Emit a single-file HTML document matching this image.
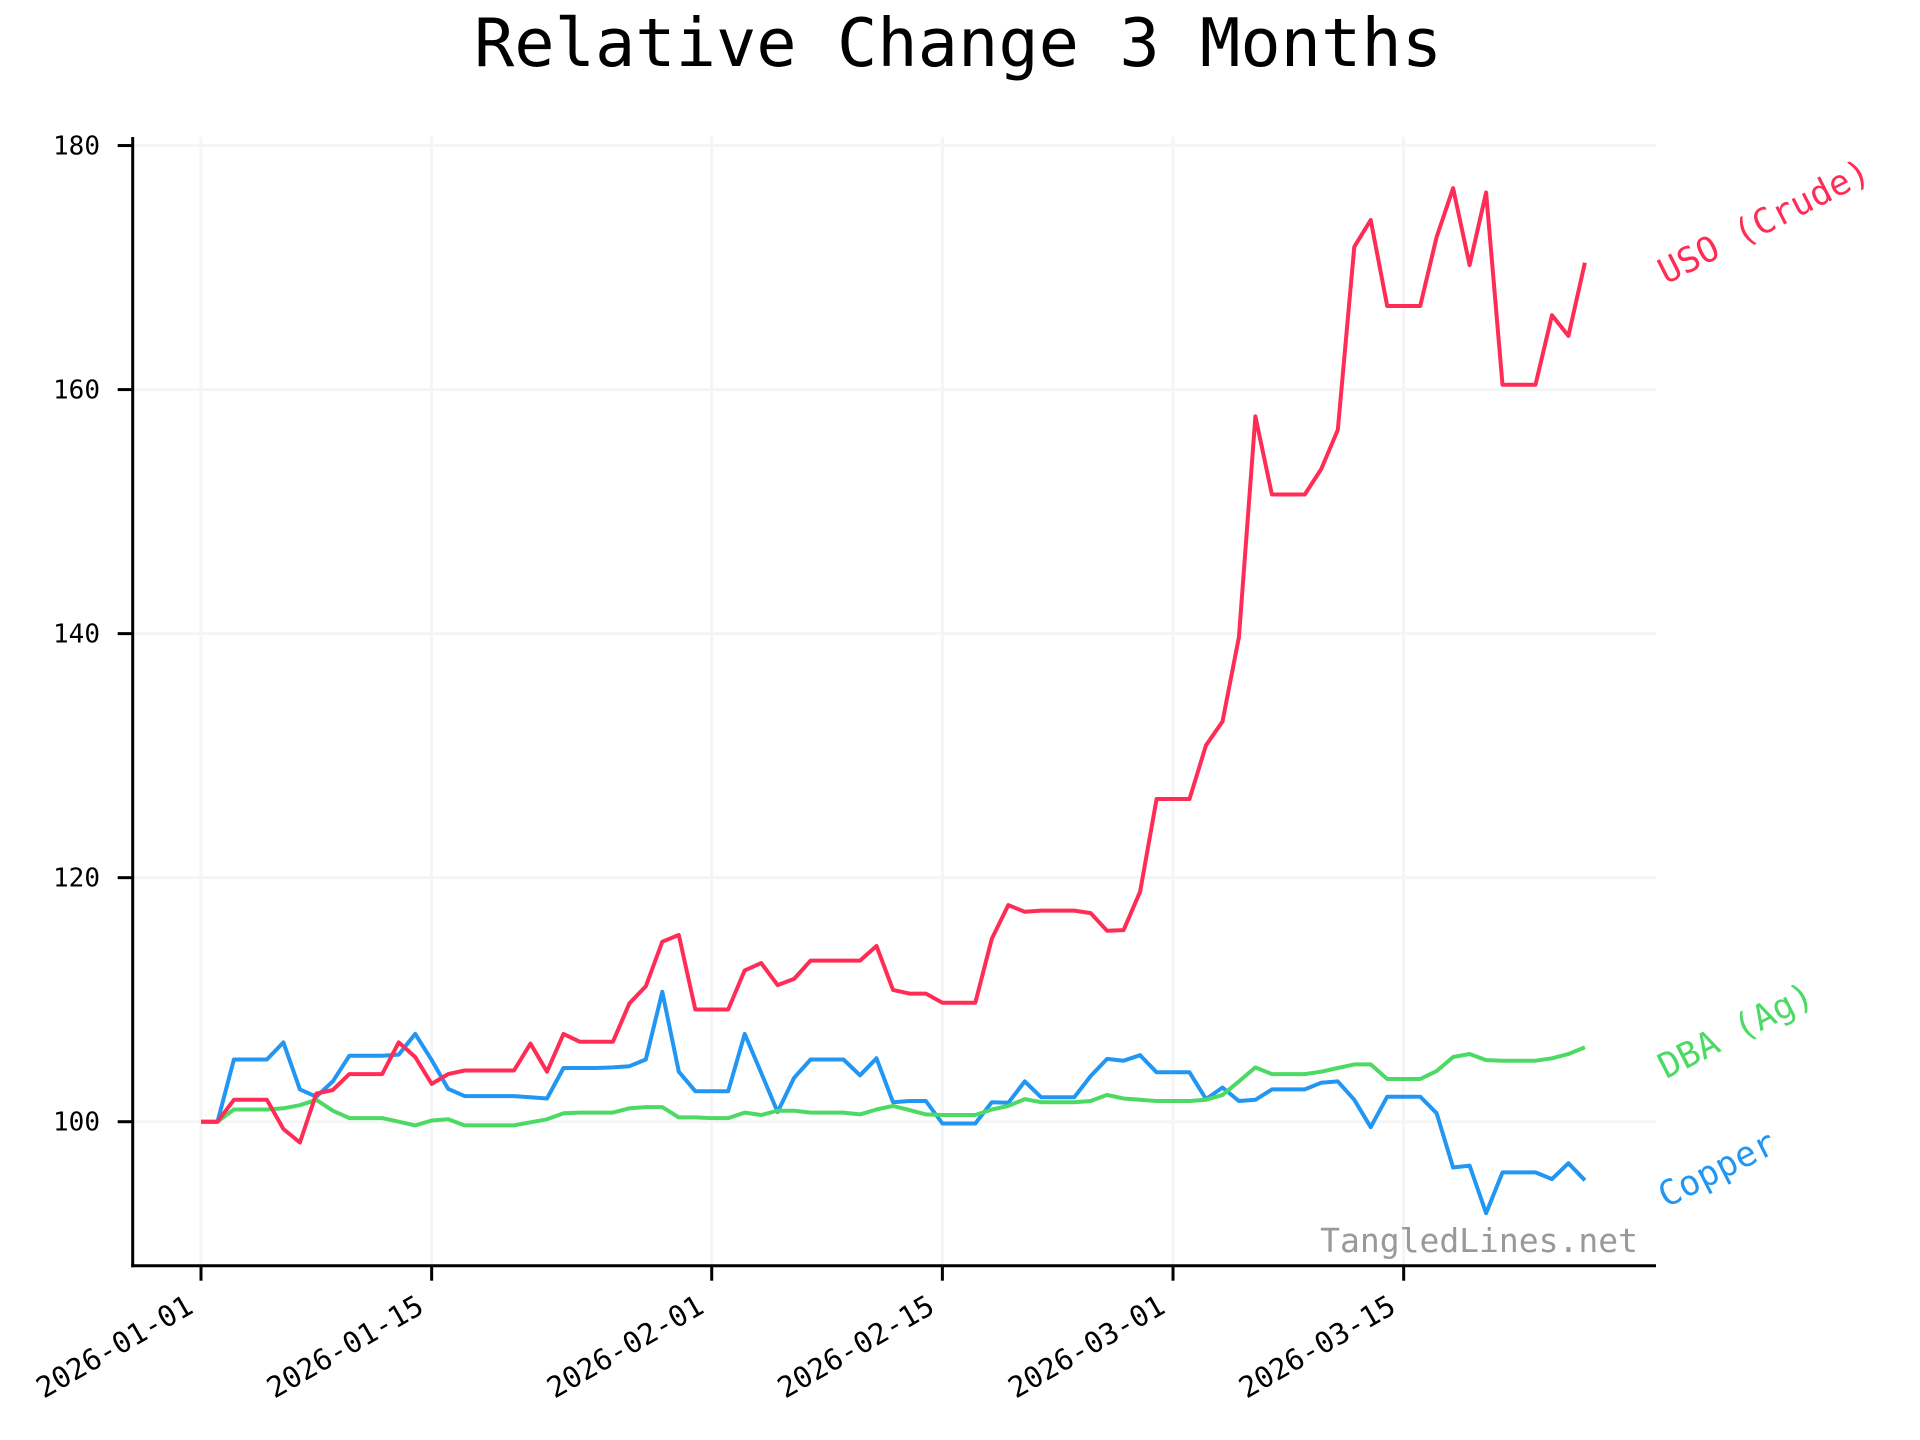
<!DOCTYPE html>
<html><head><meta charset="utf-8"><style>
html,body{margin:0;padding:0;background:#fff;}
svg{display:block;font-family:"DejaVu Sans Mono","Liberation Mono",monospace;}
</style></head><body>
<svg id="chart" width="1920" height="1440" viewBox="0 0 1920 1440" xmlns="http://www.w3.org/2000/svg">
<text x="958" y="66" font-size="67" text-anchor="middle" fill="#000">Relative Change 3 Months</text>
<g id="grid"></g>
<g id="series"></g>
<g id="axes"></g>
<text x="1638" y="1252" font-size="33" text-anchor="end" fill="#999">TangledLines.net</text>
</svg>
<script>
const yTicks = [100, 120, 140, 160, 180];
const xTickDays = [0, 14, 31, 45, 59, 73];
const xTickLabels = ["2026-01-01","2026-01-15","2026-02-01","2026-02-15","2026-03-01","2026-03-15"];
const seriesNames = ["USO (Crude)", "DBA (Ag)", "Copper"];
const usoValues = [100,100,101.8,101.8,101.8,99.4,98.3,102.3,102.6,103.9,103.9,103.9,106.5,105.3,103.1,103.9,104.2,104.2,104.2,104.2,106.4,104.1,107.2,106.55,106.55,106.55,109.7,111.1,114.75,115.3,109.2,109.2,109.2,112.4,113.0,111.2,111.7,113.2,113.2,113.2,113.2,114.4,110.8,110.5,110.5,109.75,109.75,109.75,115.0,117.75,117.2,117.3,117.3,117.3,117.1,115.65,115.7,118.85,126.45,126.45,126.45,130.85,132.8,139.7,157.8,151.4,151.4,151.4,153.5,156.7,171.7,173.9,166.85,166.85,166.85,172.5,176.5,170.2,176.15,160.4,160.4,160.4,166.1,164.4,170.4];
const dbaValues = [100,100,101,101,101,101.1,101.35,101.8,100.9,100.3,100.3,100.3,100,99.7,100.1,100.2,99.7,99.7,99.7,99.7,99.95,100.2,100.7,100.75,100.75,100.75,101.1,101.2,101.2,100.35,100.35,100.3,100.3,100.75,100.55,100.9,100.9,100.75,100.75,100.75,100.6,101.0,101.3,100.95,100.6,100.55,100.55,100.55,101.0,101.3,101.85,101.6,101.6,101.6,101.7,102.2,101.9,101.8,101.7,101.7,101.7,101.8,102.2,103.3,104.45,103.9,103.9,103.9,104.1,104.4,104.7,104.7,103.5,103.5,103.5,104.15,105.3,105.55,105.05,105.0,105.0,105.0,105.2,105.55,106.1];
const copperValues = [100,100,105.1,105.1,105.1,106.5,102.65,102.05,103.3,105.4,105.4,105.4,105.5,107.2,105.05,102.7,102.1,102.1,102.1,102.1,102.0,101.9,104.4,104.4,104.4,104.45,104.55,105.1,110.65,104.1,102.5,102.5,102.5,107.2,104.0,100.8,103.6,105.1,105.1,105.1,103.8,105.2,101.6,101.7,101.7,99.85,99.85,99.85,101.6,101.55,103.3,102.0,102.0,102.0,103.75,105.15,105.0,105.45,104.05,104.05,104.05,101.85,102.8,101.7,101.8,102.65,102.65,102.65,103.2,103.3,101.8,99.55,102.05,102.05,102.05,100.7,96.25,96.4,92.5,95.85,95.85,95.85,95.3,96.6,95.2];

const NS = "http://www.w3.org/2000/svg";
const L = 132.7, R = 1656, T = 137, B = 1265.7;
const yMin = 88.2, yMax = 180.7;
function xs(d){ return 201 + 16.475 * d; }
function ys(v){ return B - (v - yMin) / (yMax - yMin) * (B - T); }
function mk(tag, attrs, parent){ const e = document.createElementNS(NS, tag); for (const k in attrs) e.setAttribute(k, attrs[k]); parent.appendChild(e); return e; }

const grid = document.getElementById('grid');
const axes = document.getElementById('axes');
const series = document.getElementById('series');

yTicks.forEach(v => {
  const g = mk('line', {x1:L, x2:R, y1:ys(v), y2:ys(v), stroke:'#f5f5f5', 'stroke-width':3}, grid);
  
  
  const t = mk('line', {x1:L-15, x2:L, y1:ys(v), y2:ys(v), stroke:'#000', 'stroke-width':3}, axes);
  
  
  const lb = mk('text', {x:100, y:ys(v)+9, 'font-size':26, 'text-anchor':'end', fill:'#000'}, axes);
  lb.textContent = v;
  
  
});
xTickDays.forEach((d, i) => {
  const x = xs(d);
  const g = mk('line', {x1:x, x2:x, y1:T, y2:B, stroke:'#f5f5f5', 'stroke-width':3}, grid);
  
  
  const t = mk('line', {x1:x, x2:x, y1:B, y2:B+15, stroke:'#000', 'stroke-width':3}, axes);
  
  
  const lb = mk('text', {x:0, y:0, 'font-size':29, 'text-anchor':'end', fill:'#000', transform:`translate(${x-6},${B+46}) rotate(-30)`}, axes);
  lb.textContent = xTickLabels[i];
  
  
});
const sl = mk('line', {x1:L, x2:L, y1:T, y2:B+1.5, stroke:'#000', 'stroke-width':3}, axes);


const sb = mk('line', {x1:L-1.5, x2:R, y1:B, y2:B, stroke:'#000', 'stroke-width':3}, axes);



const allSeries = [
  {vals: copperValues, color:'#2196f3', name:'copper'},
  {vals: dbaValues, color:'#4cd964', name:'dba'},
  {vals: usoValues, color:'#ff2d55', name:'uso'}
];
allSeries.forEach(s => {
  const pts = s.vals.map((v, i) => xs(i).toFixed(1) + ',' + ys(v).toFixed(1)).join(' ');
  const p = mk('polyline', {points:pts, fill:'none', stroke:s.color, 'stroke-width':4, 'stroke-linejoin':'round'}, series);
  
  
});
const labelInfo = [
  {vals: usoValues, color:'#ff2d55', text: seriesNames[0], dy: 22},
  {vals: dbaValues, color:'#4cd964', text: seriesNames[1], dy: 32},
  {vals: copperValues, color:'#2196f3', text: seriesNames[2], dy: 28}
];
labelInfo.forEach(li => {
  const n = li.vals.length - 1;
  const y = ys(li.vals[n]) + li.dy;
  const t = mk('text', {x:0, y:0, 'font-size':35, fill:li.color, transform:`translate(1666,${y}) rotate(-27)`}, series);
  t.textContent = li.text;
  
  
});
</script>
</body></html>
